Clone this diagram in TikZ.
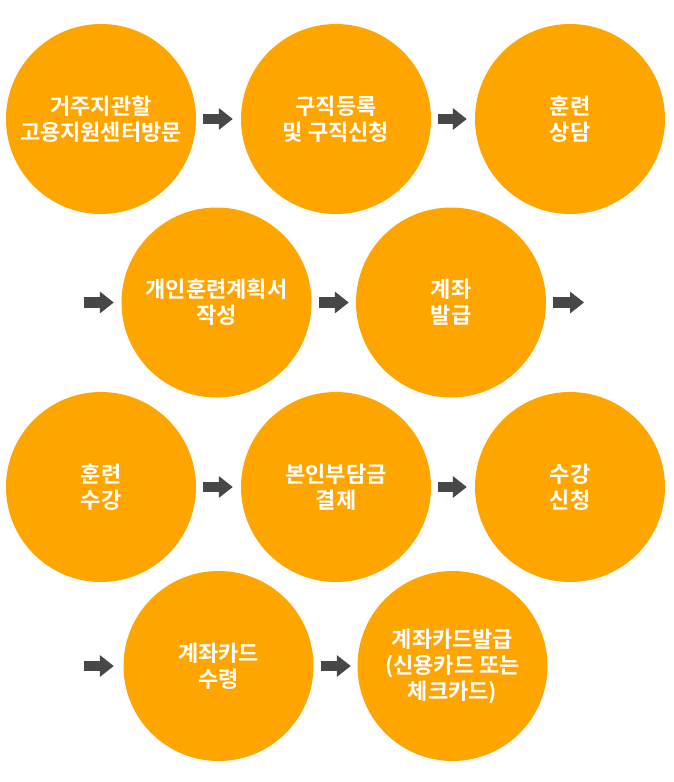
\documentclass[tikz,border=0pt]{standalone}
\usepackage{fontspec}
\newfontfamily\kr{Noto Sans CJK KR}[BoldFont={Noto Sans CJK KR Bold}]
\usetikzlibrary{arrows.meta}
\definecolor{org}{HTML}{FFA500}
\definecolor{arrgray}{HTML}{474747}
\tikzset{
  stepcircle/.style={circle, fill=org, draw=none, minimum size=190pt, inner sep=0pt,
    text=white, align=center, font=\kr\bfseries\fontsize{22}{26}\selectfont},
  flow/.style={draw=arrgray, line width=10.5pt, line cap=butt,
    -{Triangle[width=21pt,length=14pt]}, shorten <=7pt, shorten >=8pt}
}
\begin{document}
\begin{tikzpicture}[x=1pt,y=-1pt]
\useasboundingbox (0,0) rectangle (674,782);
\node[stepcircle] (c1) at (101,119) {거주지관할\\고용지원센터방문};
\node[stepcircle] (c2) at (336,119) {구직등록\\및 구직신청};
\node[stepcircle] (c3) at (570,119) {훈련\\상담};
\node[stepcircle] (c4) at (216.5,302.5) {개인훈련계획서\\작성};
\node[stepcircle] (c5) at (451,302.5) {계좌\\발급};
\node[stepcircle] (c6) at (101,487) {훈련\\수강};
\node[stepcircle] (c7) at (336,487) {본인부담금\\결제};
\node[stepcircle] (c8) at (570,487) {수강\\신청};
\node[stepcircle] (c9) at (218.5,666) {계좌카드\\수령};
\node[stepcircle] (c10) at (452.5,666) {계좌카드발급\\(신용카드 또는\\체크카드)};
\coordinate (s4) at (84,302.5);
\coordinate (e5) at (584,302.5);
\coordinate (s9) at (84,666);
\draw[flow] (c1) -- (c2);
\draw[flow] (c2) -- (c3);
\draw[flow, shorten <=0pt, shorten >=7.5pt] (s4) -- (c4);
\draw[flow, shorten <=7.5pt, shorten >=7pt] (c4) -- (c5);
\draw[flow, shorten >=0pt] (c5) -- (e5);
\draw[flow] (c6) -- (c7);
\draw[flow] (c7) -- (c8);
\draw[flow, shorten <=0pt, shorten >=9.5pt] (s9) -- (c9);
\draw[flow, shorten <=7.5pt, shorten >=6.5pt] (c9) -- (c10);
\end{tikzpicture}
\end{document}
